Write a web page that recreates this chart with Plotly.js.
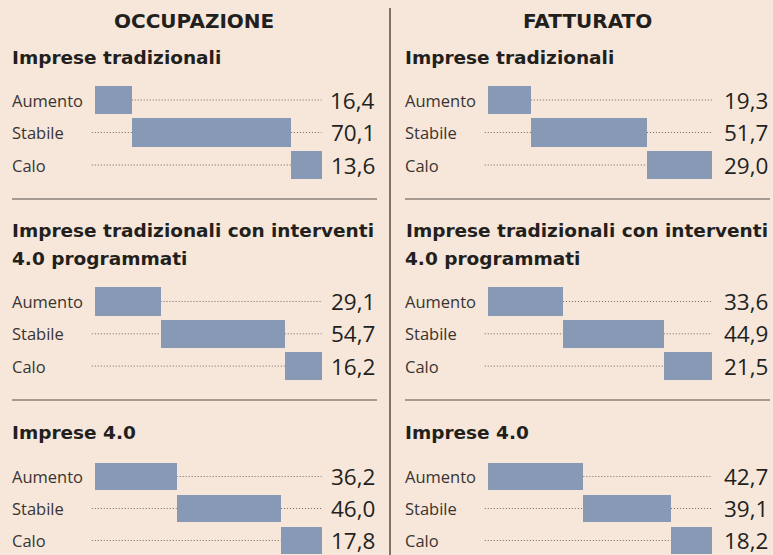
<!DOCTYPE html>
<html>
<head>
<meta charset="utf-8">
<script src="https://cdn.plot.ly/plotly-3.0.1.min.js"></script>
<style>html,body{margin:0;padding:0;background:#f6e7da;}#chart{width:773px;height:555px;}</style>
</head>
<body>
<div id="chart"></div>
<script>
// ---- data ----
const categories = ['Aumento', 'Stabile', 'Calo'];
const panelTitles = ['OCCUPAZIONE', 'FATTURATO'];
const sectionTitles = [
  ['Imprese tradizionali'],
  ['Imprese tradizionali con interventi', '4.0 programmati'],
  ['Imprese 4.0']
];
const occupazioneTradizionali = [16.4, 70.1, 13.6];
const occupazioneProgrammati = [29.1, 54.7, 16.2];
const occupazioneImprese40 = [36.2, 46.0, 17.8];
const fatturatoTradizionali = [19.3, 51.7, 29.0];
const fatturatoProgrammati = [33.6, 44.9, 21.5];
const fatturatoImprese40 = [42.7, 39.1, 18.2];

const panels = [
  [occupazioneTradizionali, occupazioneProgrammati, occupazioneImprese40],
  [fatturatoTradizionali, fatturatoProgrammati, fatturatoImprese40]
];

// ---- geometry / style ----
const W = 773, H = 555;
const px = p => p / W;
const py = p => Math.min(1, Math.max(0, 1 - p / H));
const BG = '#f6e7da';
const BAR = '#8799b5';
const FONT = '"Open Sans", Roboto, sans-serif';
const HEAD_FONT = '"DejaVu Sans", "Open Sans", sans-serif';

const colZero = [94.5, 487.5];
const colScale = [2.27, 2.245];
const colTitleX = [194, 587];
const colTextX = [10, 403.5];
const colValueX = [377, 770];
const colRuleX = [[12, 377], [405, 770]];
const secCenter = [100, 301.5, 476.5];
const secSpacing = [32.5, 32.3, 32];
const secTitleY = [[57.5], [230.5, 258.5], [432]];
const ruleY = [199, 400];
const xMin = -3, xMax = 101;

const traces = [];
const shapes = [];
const annotations = [];
const layout = {
  width: W, height: H,
  margin: {l: 0, r: 0, t: 0, b: 0},
  paper_bgcolor: BG, plot_bgcolor: 'rgba(0,0,0,0)',
  showlegend: false, bargap: 0,
  font: {family: FONT, color: '#2a2522'},
  shapes: shapes, annotations: annotations
};

panels.forEach((sections, c) => {
  annotations.push({
    text: panelTitles[c], xref: 'paper', yref: 'paper',
    x: px(colTitleX[c]), y: py(21), xanchor: 'center', yanchor: 'middle',
    showarrow: false, font: {family: HEAD_FONT, size: 20, weight: 'bold', color: '#231f1d'}
  });
  sections.forEach((vals, s) => {
    const n = c * 3 + s + 1;
    const xa = 'x' + n, ya = 'y' + n;
    const z = colZero[c], k = colScale[c];
    const c0 = secCenter[s], sp = secSpacing[s];
    const topPx = c0 - 0.5 * sp;
    const botPx = Math.min(c0 + 2.5 * sp, H);
    const botVal = (botPx - c0) / sp;
    layout['xaxis' + n] = {
      domain: [px(z + xMin * k), px(z + xMax * k)], range: [xMin, xMax],
      visible: false, fixedrange: true, anchor: ya
    };
    layout['yaxis' + n] = {
      domain: [py(botPx), py(topPx)], range: [botVal, -0.5],
      visible: false, fixedrange: true, anchor: xa
    };
    const bases = [];
    let acc = 0;
    vals.forEach(v => { bases.push(acc); acc += v; });
    const idx = categories.map((_, i) => i);
    traces.push({
      type: 'bar', orientation: 'h', y: idx, x: vals, base: bases, width: 0.87,
      xaxis: xa, yaxis: ya, marker: {color: BAR, line: {width: 0}}, hoverinfo: 'skip'
    });
    const total = 100;
    vals.forEach((v, i) => {
      const dot = {color: '#6e6662', width: 1, dash: '1px,2px'};
      if (bases[i] > 0.5) {
        shapes.push({type: 'line', xref: xa, yref: ya, x0: -1.2, x1: bases[i], y0: i, y1: i, line: dot, layer: 'below'});
      }
      if (bases[i] + v < total - 0.5) {
        shapes.push({type: 'line', xref: xa, yref: ya, x0: bases[i] + v, x1: total, y0: i, y1: i, line: dot, layer: 'below'});
      }
      annotations.push({
        text: categories[i], xref: 'paper', yref: ya, x: px(colTextX[c]), y: i,
        xanchor: 'left', yanchor: 'middle', showarrow: false,
        font: {family: FONT, size: 16.5, color: '#3a3431'}
      });
      annotations.push({
        text: v.toFixed(1).replace('.', ','), xref: 'paper', yref: ya, x: px(colValueX[c]), y: i,
        xanchor: 'right', yanchor: 'middle', showarrow: false,
        font: {family: FONT, size: 22.5, color: '#231f1d'}
      });
    });
    sectionTitles[s].forEach((line, j) => {
      annotations.push({
        text: line, xref: 'paper', yref: 'paper', x: px(colTextX[c]), y: py(secTitleY[s][j]),
        xanchor: 'left', yanchor: 'middle', showarrow: false,
        font: {family: HEAD_FONT, size: 18.5, weight: 'bold', color: '#231f1d'}
      });
    });
  });
  ruleY.forEach(yy => {
    shapes.push({type: 'line', xref: 'paper', yref: 'paper',
      x0: px(colRuleX[c][0]), x1: px(colRuleX[c][1]), y0: py(yy), y1: py(yy),
      line: {color: '#8c817a', width: 1.5}});
  });
});
shapes.push({type: 'line', xref: 'paper', yref: 'paper', x0: px(390), x1: px(390), y0: py(8), y1: 0,
  line: {color: '#7d736c', width: 2}});

Plotly.newPlot('chart', traces, layout, {displayModeBar: false, staticPlot: true});
</script>
</body>
</html>
